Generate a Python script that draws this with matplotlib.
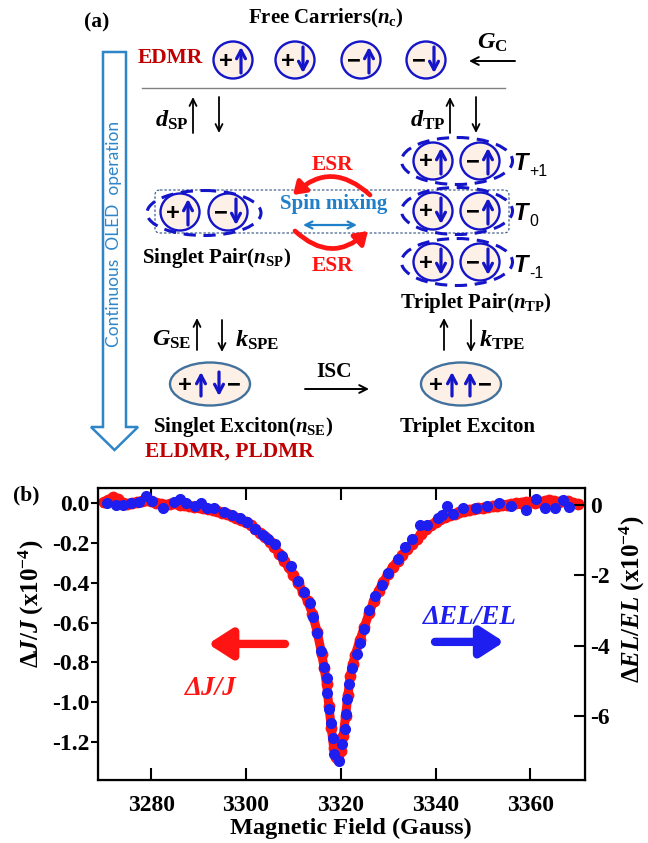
import matplotlib.pyplot as plt
from matplotlib.patches import Ellipse, FancyBboxPatch, Polygon

plt.rcParams['font.family'] = 'Liberation Serif'
plt.rcParams['font.weight'] = 'bold'
plt.rcParams['mathtext.fontset'] = 'custom'
plt.rcParams['mathtext.rm'] = 'Liberation Serif'
plt.rcParams['mathtext.it'] = 'Liberation Serif:italic:bold'
plt.rcParams['mathtext.bf'] = 'Liberation Serif:bold'
plt.rcParams['axes.unicode_minus'] = False

# ---- data for panel (b) ----
# Delta J / J (x1e-4), red
red_field = [3270, 3271, 3272, 3273, 3274, 3275, 3276, 3277, 3278, 3279,
             3280, 3281, 3282, 3283, 3284, 3285, 3286, 3287, 3288, 3289,
             3290, 3291, 3292, 3293, 3294, 3295, 3296, 3297, 3298, 3299,
             3300, 3301, 3302, 3303, 3304, 3305, 3306, 3307, 3308, 3309,
             3310, 3311, 3312, 3313, 3314, 3315, 3316, 3316.5, 3317, 3317.5,
             3318, 3318.5, 3319, 3319.5, 3320, 3320.5, 3321, 3321.5, 3322, 3322.5,
             3323, 3324, 3325, 3326, 3327, 3328, 3329, 3330, 3331, 3332,
             3333, 3334, 3335, 3336, 3337, 3338, 3339, 3340, 3341, 3342,
             3343, 3344, 3345, 3346, 3347, 3348, 3349, 3350, 3351, 3352,
             3353, 3354, 3355, 3356, 3357, 3358, 3359, 3360, 3361, 3362,
             3363, 3364, 3365, 3366, 3367, 3368, 3369, 3370]
red_dj = [0.005, 0.015, 0.03, 0.02, 0.0, -0.005, 0.0, 0.005, 0.01, 0.015,
          0.008, 0.002, -0.005, -0.01, -0.005, -0.002, -0.008, -0.012, -0.015, -0.018,
          -0.022, -0.027, -0.032, -0.037, -0.042, -0.048, -0.056, -0.065, -0.075, -0.086,
          -0.098, -0.112, -0.13, -0.15, -0.172, -0.195, -0.222, -0.255, -0.29, -0.322,
          -0.36, -0.40, -0.445, -0.49, -0.555, -0.645, -0.76, -0.83, -0.91, -1.02,
          -1.13, -1.23, -1.275, -1.285, -1.245, -1.17, -1.07, -0.965, -0.87, -0.81,
          -0.765, -0.69, -0.62, -0.55, -0.49, -0.44, -0.395, -0.355, -0.32, -0.29,
          -0.26, -0.232, -0.205, -0.18, -0.155, -0.132, -0.113, -0.097, -0.083, -0.072,
          -0.062, -0.054, -0.047, -0.041, -0.036, -0.031, -0.027, -0.023, -0.02, -0.017,
          -0.014, -0.011, -0.009, -0.006, -0.002, 0.002, 0.006, 0.003, 0.0, 0.004,
          0.01, 0.014, 0.008, 0.004, 0.012, 0.008, 0.0, -0.004]

# Delta EL / EL (x1e-4), blue, right axis
blue_field = [3270.7, 3272.5, 3274.0, 3275.7, 3277.4, 3278.9, 3280.2, 3282.6, 3284.8, 3286.1,
              3287.4, 3289.2, 3290.6, 3291.8, 3293.3, 3295.3, 3297.0, 3298.7, 3300.2, 3302.0,
              3303.7, 3304.6, 3306.2, 3307.5, 3309.4, 3310.9, 3312.2, 3313.5, 3314.2, 3315.0,
              3315.9, 3316.5, 3317.0, 3317.1, 3317.5, 3317.9, 3318.3, 3318.6, 3319.6, 3320.3,
              3320.8, 3321.0, 3321.4, 3321.8, 3322.3, 3323.4, 3324.0, 3324.9, 3326.0, 3327.3,
              3328.6, 3329.9, 3332.1, 3333.6, 3335.1, 3336.6, 3338.2, 3340.4, 3341.4, 3342.3,
              3343.7, 3345.8, 3348.6, 3350.8, 3353.4, 3356.0, 3359.1, 3361.1, 3363.0, 3365.2,
              3366.9, 3368.2]
blue_del = [0.04, -0.01, 0.01, 0.04, 0.085, 0.256, 0.10, -0.085, 0.085, 0.16,
            0.04, -0.03, 0.04, -0.085, -0.085, -0.20, -0.295, -0.37, -0.48, -0.68,
            -0.85, -0.965, -1.11, -1.46, -1.75, -2.15, -2.49, -2.78, -3.20, -3.63,
            -4.14, -4.60, -4.91, -5.34, -5.79, -6.19, -6.64, -7.09, -7.27, -6.81,
            -6.36, -5.93, -5.51, -5.08, -4.65, -4.25, -3.92, -3.53, -2.98, -2.60,
            -2.29, -1.93, -1.53, -1.19, -0.98, -0.56, -0.58, -0.37, -0.30, -0.03,
            -0.25, -0.085, -0.10, -0.03, 0.04, -0.03, -0.15, 0.18, -0.085, -0.085,
            0.13, -0.06]

x_ticks = [3280, 3300, 3320, 3340, 3360]
left_ticks = [0.0, -0.2, -0.4, -0.6, -0.8, -1.0, -1.2]
right_ticks = [0, -2, -4, -6]

RED = '#ff1414'
BLUE = '#1e1ef0'
DARKRED = '#c00000'
MIDBLUE = '#1f7fc8'
SPIN = '#1414c8'
PEACH = '#fdf0e6'

fig = plt.figure(figsize=(6.48, 8.43), dpi=100)
W, H = 648.0, 843.0

# ---------------- panel (b) ----------------
ax = fig.add_axes([98 / W, 63 / H, 487 / W, 292 / H])
ax.plot(red_field, red_dj, color=RED, lw=6.5, marker='o', ms=7.5, zorder=2)
ax.set_xlim(3268.8, 3371.5)
ax.set_ylim(-1.39, 0.075)
ax.set_xticks(x_ticks)
ax.set_yticks(left_ticks)
ax.set_yticklabels(['%.1f' % v for v in left_ticks])
ax.tick_params(axis='x', direction='in', top=True, length=8.5, width=1.5,
               labelsize=17, pad=11)
ax.tick_params(axis='y', direction='out', length=5, width=1.5, labelsize=17, pad=1)
for s in ax.spines.values():
    s.set_linewidth(1.6)

ax2 = ax.twinx()
ax2.plot(blue_field, blue_del, 'o', color=BLUE, ms=7, zorder=3)
ax2.set_ylim(-7.82, 0.48)
ax2.set_yticks(right_ticks)
ax2.tick_params(axis='y', direction='in', length=8, width=1.5, labelsize=17, pad=4)

fig.text(351 / W, 1 - 828 / H, 'Magnetic Field (Gauss)', ha='center', va='center',
         fontsize=17.5)
fig.text(31 / W, 1 - 604 / H, r'$\mathit{\Delta J/J}$ (x10$^{\mathbf{-4}}$)',
         rotation=90, ha='center', va='center', fontsize=18)
fig.text(632 / W, 1 - 599 / H, r'$\mathit{\Delta EL/EL}$ (x10$^{\mathbf{-4}}$)',
         rotation=90, ha='center', va='center', fontsize=18)
fig.text(26 / W, 1 - 495 / H, '(b)', ha='center', va='center', fontsize=15.5)

ax.annotate('', xy=(0.226, 0.466), xytext=(0.384, 0.466), xycoords='axes fraction',
            arrowprops=dict(arrowstyle='-|>,head_length=0.7,head_width=0.45',
                            lw=6, color=RED, shrinkA=0, shrinkB=0, mutation_scale=20,
                            capstyle='round'))
ax.annotate('', xy=(0.834, 0.473), xytext=(0.692, 0.473), xycoords='axes fraction',
            arrowprops=dict(arrowstyle='-|>,head_length=0.7,head_width=0.45',
                            lw=6, color=BLUE, shrinkA=0, shrinkB=0, mutation_scale=20,
                            capstyle='round'))
ax.text(0.764, 0.558, 'ΔEL/EL', transform=ax.transAxes, color=BLUE, fontsize=19.5,
        style='italic', ha='center', va='center')
ax.text(0.232, 0.315, 'ΔJ/J', transform=ax.transAxes, color=RED, fontsize=19.5,
        style='italic', ha='center', va='center')

# ---------------- panel (a): scheme, drawn in pixel coordinates ----------------
sa = fig.add_axes([0, 0, 1, 1])
sa.set_xlim(0, W)
sa.set_ylim(H, 0)
sa.axis('off')


def arrow(x0, y0, x1, y1, color='k', lw=1.3, style='->,head_length=0.5,head_width=0.25'):
    sa.annotate('', xy=(x1, y1), xytext=(x0, y0),
                arrowprops=dict(arrowstyle=style, lw=lw, color=color,
                                shrinkA=0, shrinkB=0))


def spin_arrow(x, y, spin, half=13):
    st = '->,head_length=0.6,head_width=0.32'
    if spin == 'up':
        arrow(x, y + half, x, y - half, color=SPIN, lw=2.3, style=st)
    else:
        arrow(x, y - half, x, y + half, color=SPIN, lw=2.3, style=st)


def carrier(x, y, sign, spin):
    sa.add_patch(Ellipse((x, y), 39, 37, fc=PEACH, ec=SPIN, lw=1.7, zorder=3))
    sa.text(x - 7, y + 1, sign, family='Liberation Sans', fontsize=17,
            ha='center', va='center', zorder=4)
    spin_arrow(x + 8, y, spin)


def exciton(x, y, spins):
    sa.add_patch(Ellipse((x, y), 80, 43, fc=PEACH, ec='#41719c', lw=1.7, zorder=3))
    sa.text(x - 25, y + 1, '+', family='Liberation Sans', fontsize=17,
            ha='center', va='center', zorder=4)
    sa.text(x + 24, y + 1, '\u2212', family='Liberation Sans', fontsize=17,
            ha='center', va='center', zorder=4)
    for dx, s in zip([-9, 9], spins):
        spin_arrow(x + dx, y, s, half=12)


# big hollow arrow on the left
sa.add_patch(Polygon([(103, 52), (126, 52), (126, 427), (138, 427), (114.5, 450),
                      (91, 427), (103, 427)], closed=True, fill=False,
                     ec='#2e86c8', lw=1.8))
sa.text(114.5, 234, 'Continuous  OLED  operation', rotation=90, color='#2e86c8',
        family='Lato', fontweight='normal', fontsize=12.5, ha='center', va='center')

sa.text(97, 22, '(a)', fontsize=15.5, ha='center', va='center')
sa.text(326, 18, r'Free Carriers($n_\mathrm{c}$)', fontsize=15, ha='center', va='center')
sa.text(170, 58, 'EDMR', fontsize=15.5, color=DARKRED, ha='center', va='center')
for cx, sg, sp in zip([233, 295, 361, 426], ['+', '+', '\u2212', '\u2212'],
                      ['up', 'down', 'up', 'down']):
    carrier(cx, 60, sg, sp)
sa.text(492, 43, r'$G_\mathrm{C}$', fontsize=17.5, ha='center', va='center')
arrow(515, 61, 469, 61, lw=1.4, style='->,head_length=0.55,head_width=0.28')
sa.plot([142, 505], [88, 88], color='#808080', lw=1)

# dissociation arrows
sa.text(172, 120, r'$d_\mathrm{SP}$', fontsize=17.5, ha='center', va='center')
arrow(193, 133, 193, 97)
arrow(219, 97, 219, 133)
sa.text(428, 120, r'$d_\mathrm{TP}$', fontsize=17.5, ha='center', va='center')
arrow(450, 133, 450, 97)
arrow(476, 97, 476, 133)

# triplet pairs
for ry, pair, lab in [(161, [('+', 'up'), ('\u2212', 'up')], '+1'),
                      (211, [('+', 'down'), ('\u2212', 'up')], '0'),
                      (262, [('+', 'down'), ('\u2212', 'down')], '-1')]:
    sa.add_patch(Ellipse((457, ry), 111, 47, fill=False, ec=SPIN, lw=2.2,
                         ls=(0, (4, 2.5)), zorder=2))
    for cx, (sg, sp) in zip([433, 480], pair):
        carrier(cx, ry, sg, sp)
    sa.text(521, ry + 3, 'T', family='Liberation Sans', style='italic', fontsize=17,
            ha='center', va='center')
    sa.text(529, ry + 11, lab, family='Liberation Sans', fontweight='normal',
            fontsize=11.5, ha='left', va='center')

# singlet pair
sa.add_patch(Ellipse((204, 213), 114, 45, fill=False, ec=SPIN, lw=2.2,
                     ls=(0, (4, 2.5)), zorder=2))
carrier(180, 212, '+', 'up')
carrier(228, 212, '\u2212', 'down')
sa.add_patch(FancyBboxPatch((155, 190), 354, 43, boxstyle='round,pad=0,rounding_size=5',
                            fill=False, ec='#44628e', lw=0.9, ls=(0, (2, 1.5)), zorder=1))
sa.text(217, 258, r'Singlet Pair($n_\mathrm{SP}$)', fontsize=15, ha='center', va='center')
sa.text(476, 303, r'Triplet Pair($n_\mathrm{TP}$)', fontsize=15, ha='center', va='center')

# spin mixing / ESR
sa.text(333, 165, 'ESR', fontsize=15.5, color=RED, ha='center', va='center')
sa.text(333, 266, 'ESR', fontsize=15.5, color=RED, ha='center', va='center')
sa.text(334, 204, 'Spin mixing', fontsize=15, color=MIDBLUE, ha='center', va='center')
arrow(303, 225, 357, 225, color=MIDBLUE, lw=1.6,
      style='<->,head_length=0.5,head_width=0.25')
sa.annotate('', xy=(293, 195), xytext=(370, 195),
            arrowprops=dict(arrowstyle='-|>,head_length=0.6,head_width=0.4', lw=3.4,
                            color=RED, shrinkA=0, shrinkB=0, mutation_scale=12,
                            connectionstyle='arc3,rad=0.46'))
sa.annotate('', xy=(368, 231), xytext=(295, 231),
            arrowprops=dict(arrowstyle='-|>,head_length=0.6,head_width=0.4', lw=3.4,
                            color=RED, shrinkA=0, shrinkB=0, mutation_scale=12,
                            connectionstyle='arc3,rad=0.46'))

# exciton formation
sa.text(172, 340, r'$G_\mathrm{SE}$', fontsize=17.5, ha='center', va='center')
arrow(197, 350, 197, 318)
arrow(222, 320, 222, 352)
sa.text(257, 340, r'$k_\mathrm{SPE}$', fontsize=17.5, ha='center', va='center')
arrow(444, 350, 444, 318)
arrow(471, 320, 471, 352)
sa.text(502, 340, r'$k_\mathrm{TPE}$', fontsize=17.5, ha='center', va='center')

exciton(210, 384, ['up', 'down'])
exciton(461, 384, ['up', 'up'])
sa.text(334, 372, 'ISC', fontsize=15.5, ha='center', va='center')
arrow(305, 389, 369, 389, lw=1.4, style='->,head_length=0.55,head_width=0.28')
sa.text(243, 427, r'Singlet Exciton($n_\mathrm{SE}$)', fontsize=15, ha='center', va='center')
sa.text(229, 452, 'ELDMR, PLDMR', fontsize=15.5, color=DARKRED, ha='center', va='center')
sa.text(467, 427, 'Triplet Exciton', fontsize=15, ha='center', va='center')

fig.savefig('out.png', dpi=100)
